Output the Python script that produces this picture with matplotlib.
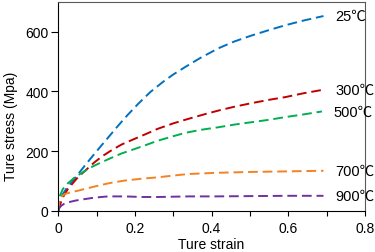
import matplotlib
matplotlib.use('Agg')
import matplotlib.pyplot as plt
from matplotlib.ticker import MultipleLocator

plt.rcParams['font.family'] = ['Liberation Sans', 'Noto Sans CJK SC', 'DejaVu Sans']
plt.rcParams['lines.scale_dashes'] = False

# strain / stress
strain_25 = [0.0, 0.004, 0.009, 0.02, 0.034, 0.05, 0.069, 0.09, 0.112, 0.135, 0.156, 0.18,
             0.208, 0.24, 0.273, 0.3, 0.331, 0.37, 0.418, 0.46, 0.505, 0.55, 0.592, 0.64, 0.692]
stress_25 = [0, 30, 50, 72, 95, 120, 151, 184, 218, 253, 285, 320,
             358, 398, 432, 457, 482, 512, 545, 568, 588, 606, 622, 638, 653]

strain_300 = [0.0, 0.005, 0.012, 0.025, 0.051, 0.075, 0.095, 0.115, 0.138, 0.165, 0.199, 0.23,
              0.26, 0.3, 0.339, 0.38, 0.418, 0.46, 0.505, 0.55, 0.592, 0.64, 0.692]
stress_300 = [0, 22, 45, 73, 112, 140, 163, 183, 202, 222, 241, 258,
              275, 293, 308, 323, 336, 349, 361, 372, 381, 394, 406]

strain_500 = [0.0, 0.002, 0.004, 0.012, 0.025, 0.043, 0.065, 0.086, 0.11, 0.138, 0.165, 0.199,
              0.23, 0.26, 0.3, 0.331, 0.37, 0.418, 0.46, 0.505, 0.55, 0.592, 0.64, 0.688]
stress_500 = [0, 35, 50, 73, 92, 112, 130, 146, 161, 177, 192, 207,
              221, 235, 250, 261, 271, 280, 289, 297, 305, 314, 323, 333]

strain_700 = [0.0, 0.002, 0.006, 0.017, 0.03, 0.051, 0.075, 0.104, 0.135, 0.173, 0.215, 0.26,
              0.3, 0.339, 0.409, 0.5, 0.6, 0.692]
stress_700 = [0, 25, 45, 56, 61, 67, 75, 84, 93, 101, 107, 112,
              118, 123, 127, 130, 132, 134]

strain_900 = [0.0, 0.003, 0.008, 0.015, 0.025, 0.045, 0.069, 0.095, 0.13, 0.173, 0.22, 0.26,
              0.339, 0.409, 0.5, 0.6, 0.692]
stress_900 = [0, 10, 17, 23, 28, 34, 39, 44, 48, 48, 46, 46,
              48, 48, 49, 50, 50]

labels = ['25\u2103', '300\u2103', '500\u2103', '700\u2103', '900\u2103']
colors = ['#0070C0', '#C00000', '#00B050', '#F58220', '#7030A0']
curves = [(strain_25, stress_25), (strain_300, stress_300), (strain_500, stress_500),
          (strain_700, stress_700), (strain_900, stress_900)]

fig = plt.figure(figsize=(3.75, 2.53), dpi=100)
ax = fig.add_axes([0.1555, 0.1632, 0.8175, 0.8248])

for (x, y), c, lab in zip(curves, colors, labels):
    ax.plot(x, y, color=c, lw=1.4, dashes=(7, 3.5))
    ax.text(x[-1] + 0.03, y[-1], lab, ha='left', va='center', fontsize=10.5)

ax.set_xlim(0, 0.8)
ax.set_ylim(0, 700)
ax.set_xticks([0, 0.2, 0.4, 0.6, 0.8])
ax.set_xticklabels(['0', '0.2', '0.4', '0.6', '0.8'])
ax.xaxis.set_minor_locator(MultipleLocator(0.1))
ax.yaxis.set_major_locator(MultipleLocator(200))
ax.tick_params(which='both', direction='out', width=0.8, labelsize=10)
ax.tick_params(axis='y', which='major', length=5, pad=2)
ax.tick_params(axis='x', which='both', length=3.5, pad=4)

for s in ['top', 'right']:
    ax.spines[s].set_color('#595959')
for s in ['left', 'bottom']:
    ax.spines[s].set_color('black')

ax.set_xlabel('Ture strain', fontsize=10, labelpad=1)
ax.set_ylabel('Ture stress (Mpa)', fontsize=10)
ax.yaxis.set_label_coords(-0.133, 0.41)

fig.savefig('out.png', dpi=100)
